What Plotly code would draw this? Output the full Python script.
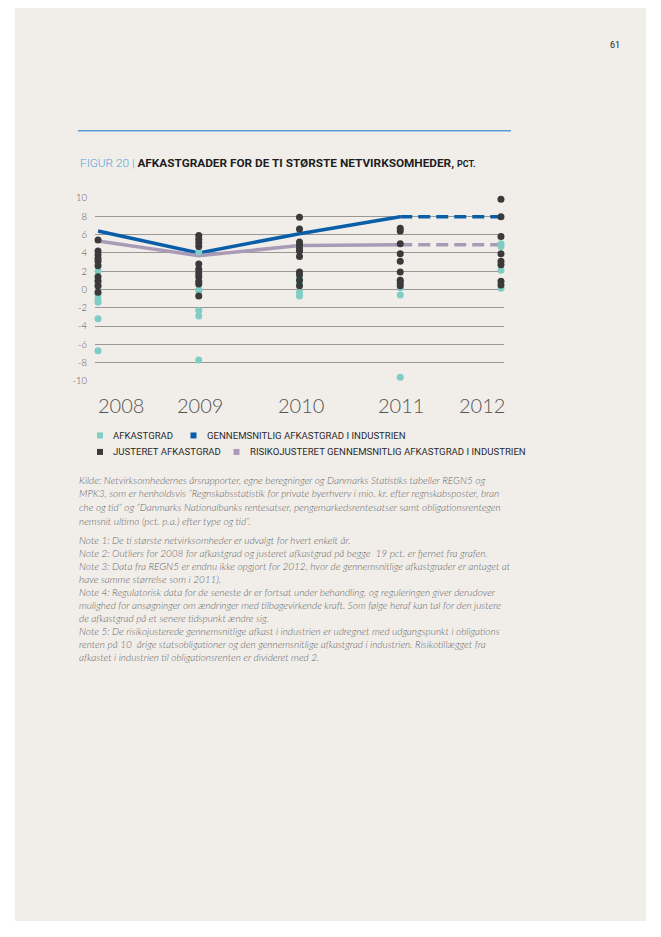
import plotly.graph_objects as go

# ---------------- data ----------------
years = [2008, 2009, 2010, 2011, 2012]

afkastgrad = {
    2008: [2.0, 1.0, 0.3, -0.6, -1.1, -1.4, -3.2, -6.7],
    2009: [4.1, 1.5, 0.0, -0.2, -2.3, -2.9, -7.7],
    2010: [1.3, 0.7, -0.3, -0.7],
    2011: [1.0, 0.2, -0.6, -9.6],
    2012: [5.0, 4.7, 2.1, 0.15],
}
justeret = {
    2008: [5.4, 4.2, 3.8, 3.4, 3.1, 2.6, 1.4, 0.9, 0.4, -0.3],
    2009: [5.9, 5.5, 5.1, 4.7, 2.8, 2.2, 1.8, 1.4, 0.9, 0.6, -0.7],
    2010: [7.9, 6.6, 5.2, 4.9, 4.5, 4.2, 3.6, 1.9, 1.6, 1.0, 0.4],
    2011: [6.7, 6.4, 5.0, 3.9, 3.1, 1.9, 1.0, 0.7, 0.4],
    2012: [9.85, 7.95, 5.8, 3.9, 3.1, 2.7, 0.9, 0.5],
}
gns_industri = [6.4, 4.0, 6.1, 7.95, 7.95]
risiko_industri = [5.3, 3.7, 4.8, 4.9, 4.9]

y_ticks = [10, 8, 6, 4, 2, 0, -2, -4, -6, -8, -10]
y_ticklabels = ["10", "8", "6", "4", "2", "0", "-2", "-4", "-6", "-8", "-10"]

legend_items = [
    ("AFKASTGRAD", "#7fcdc4"),
    ("GENNEMSNITLIG AFKASTGRAD I INDUSTRIEN", "#0a5ea8"),
    ("JUSTERET AFKASTGRAD", "#3a3a3a"),
    ("RISIKOJUSTERET GENNEMSNITLIG AFKASTGRAD I INDUSTRIEN", "#a99bb8"),
]

kilde_lines = [
    "Kilde: Netvirksomhedernes årsrapporter, egne beregninger og Danmarks Statistiks tabeller REGN5 og",
    "MPK3, som er henholdsvis \u201dRegnskabsstatistik for private byerhverv i mio. kr. efter regnskabsposter, bran",
    "che og tid\u201d og \u201dDanmarks Nationalbanks rentesatser, pengemarkedsrentesatser samt obligationsrentegen",
    "nemsnit ultimo (pct. p.a.) efter type og tid\u201d.",
]
note_lines = [
    "Note 1: De ti største netvirksomheder er udvalgt for hvert enkelt år.",
    "Note 2: Outliers for 2008 for afkastgrad og justeret afkastgrad på begge  19 pct. er fjernet fra grafen.",
    "Note 3: Data fra REGN5 er endnu ikke opgjort for 2012, hvor de gennemsnitlige afkastgrader er antaget at",
    "have samme størrelse som i 2011).",
    "Note 4: Regulatorisk data for de seneste år er fortsat under behandling, og reguleringen giver derudover",
    "mulighed for ansøgninger om ændringer med tilbagevirkende kraft. Som følge heraf kan tal for den justere",
    "de afkastgrad på et senere tidspunkt ændre sig.",
    "Note 5: De risikojusterede gennemsnitlige afkast i industrien er udregnet med udgangspunkt i obligations",
    "renten på 10  årige statsobligationer og den gennemsnitlige afkastgrad i industrien. Risikotillægget fra",
    "afkastet i industrien til obligationsrenten er divideret med 2.",
]

# ---------------- layout geometry (page pixels) ----------------
W, H = 661, 937
OFF = 8  # the page body adds an 8px margin around the figure
L, R = 95, 504
T, B = 198.3, 381.5
PW, PH = R - L, B - T


def px(x):
    return (x - L) / PW


def py(y):
    return (B - y) / PH


BG = "#f1eeea"
TEAL = legend_items[0][1]
BLUE = legend_items[1][1]
DARK = legend_items[2][1]
PURPLE = legend_items[3][1]

fig = go.Figure()

# lines
fig.add_trace(go.Scatter(x=years[:4], y=gns_industri[:4], mode="lines",
                         line=dict(color=BLUE, width=3.5), showlegend=False, hoverinfo="skip"))
fig.add_trace(go.Scatter(x=years[3:], y=gns_industri[3:], mode="lines",
                         line=dict(color=BLUE, width=3.5, dash="12px,6px"), showlegend=False, hoverinfo="skip"))
fig.add_trace(go.Scatter(x=years[:4], y=risiko_industri[:4], mode="lines",
                         line=dict(color=PURPLE, width=3.5), showlegend=False, hoverinfo="skip"))
fig.add_trace(go.Scatter(x=years[3:], y=risiko_industri[3:], mode="lines",
                         line=dict(color=PURPLE, width=3.5, dash="12px,6px"), showlegend=False, hoverinfo="skip"))

# dots
tx, ty = [], []
for yr in years:
    for v in afkastgrad[yr]:
        tx.append(yr)
        ty.append(v)
fig.add_trace(go.Scatter(x=tx, y=ty, mode="markers", cliponaxis=False,
                         marker=dict(color=TEAL, size=7), showlegend=False))
dx, dy = [], []
for yr in years:
    for v in justeret[yr]:
        dx.append(yr)
        dy.append(v)
fig.add_trace(go.Scatter(x=dx, y=dy, mode="markers", cliponaxis=False,
                         marker=dict(color=DARK, size=7), showlegend=False))

annotations = []
# year labels
for i, yr in enumerate(years):
    if i == 0:
        anchor, shift = "left", -2
    elif i == len(years) - 1:
        anchor, shift = "right", 6
    else:
        anchor, shift = "center", 1
    annotations.append(dict(x=yr, y=py(406), xref="x", yref="paper", text=str(yr),
                            showarrow=False, xanchor=anchor, yanchor="middle", xshift=shift,
                            font=dict(family="Lato", size=20, color="#555555", weight=300)))

# title
annotations.append(dict(
    x=px(78), y=py(163), xref="paper", yref="paper", xanchor="left", yanchor="middle", showarrow=False,
    text="<span style='color:#5b9fd6'>FIGUR 20 |</span> <b>AFKASTGRADER FOR DE TI STØRSTE NETVIRKSOMHEDER,</b>"
         " <span style='font-size:9px'><b>PCT.</b></span>",
    font=dict(family="Roboto", size=11.8, color="#1e1e1e", weight=300)))

# page number
annotations.append(dict(x=px(622), y=py(38), xref="paper", yref="paper", showarrow=False,
                        text="61", font=dict(family="Roboto", size=9, color="#222222")))

shapes = [
    dict(type="rect", xref="paper", yref="paper", x0=px(15), x1=px(646), y0=py(922), y1=py(0),
         fillcolor=BG, line=dict(width=0), layer="below"),
    dict(type="line", xref="paper", yref="paper", x0=px(78), x1=px(511), y0=py(131), y1=py(131),
         line=dict(color="#5b9bd5", width=1.3)),
]

# legend (squares + labels)
leg_sq = [(100, 436), (193.5, 436), (100, 452.5), (236.5, 452.5)]
for (label, col), (lx, ly) in zip(legend_items, leg_sq):
    shapes.append(dict(type="rect", xref="paper", yref="paper",
                       x0=px(lx - 3), x1=px(lx + 3), y0=py(ly + 3), y1=py(ly - 3),
                       fillcolor=col, line=dict(width=0)))
    annotations.append(dict(
        x=px(lx + 11), y=py(ly), xref="paper", yref="paper", xanchor="left", yanchor="middle", showarrow=False,
        text=label, font=dict(family="Roboto", size=9.6, color="#2a2a2a")))

# footnotes
for i, line in enumerate(kilde_lines):
    annotations.append(dict(x=px(77), y=py(480.5 + i * 13.6), xref="paper", yref="paper",
                            xanchor="left", yanchor="middle", showarrow=False,
                            text=f"<i>{line}</i>",
                            font=dict(family="Lato", size=10, color="#666666", weight=300)))
for i, line in enumerate(note_lines):
    annotations.append(dict(x=px(77), y=py(541 + i * 13.0), xref="paper", yref="paper",
                            xanchor="left", yanchor="middle", showarrow=False,
                            text=f"<i>{line}</i>",
                            font=dict(family="Lato", size=10, color="#666666", weight=300)))

fig.update_layout(
    width=W - OFF, height=H - OFF,
    margin=dict(l=L - OFF, r=W - R, t=T - OFF, b=H - B, pad=0),
    paper_bgcolor="white",
    plot_bgcolor="rgba(0,0,0,0)",
    showlegend=False,
    annotations=annotations,
    shapes=shapes,
    xaxis=dict(range=[2007.97, 2012.03], showgrid=False, zeroline=False, showticklabels=False,
               showline=False, fixedrange=True),
    yaxis=dict(range=[-10, 10], tickvals=y_ticks, ticktext=y_ticklabels, showgrid=True,
               gridcolor="#9a9895", gridwidth=1, zeroline=False, showline=False, ticks="",
               ticklabelstandoff=7,
               tickfont=dict(family="Lato", size=9.5, color="#555555", weight=300)),
)

fig.write_html("out.html")
